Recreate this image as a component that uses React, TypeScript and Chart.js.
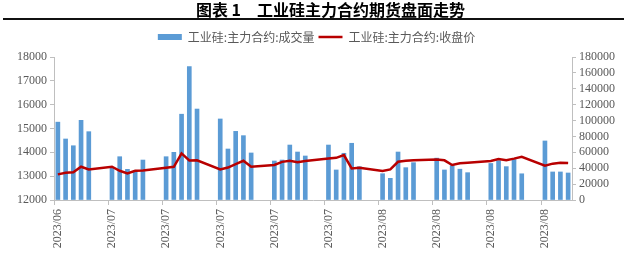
import React, { useEffect, useRef } from 'react';
import { Chart, registerables } from 'chart.js';

Chart.register(...registerables);

const TITLE_NO = '图表 1';
const TITLE_TEXT = '工业硅主力合约期货盘面走势';
const VOLUME_LABEL = '工业硅:主力合约:成交量';
const CLOSE_LABEL = '工业硅:主力合约:收盘价';

// date axis: one slot per calendar day, a labelled tick every 7 days
const START_DATE = '2023-06-26';
const AXIS_DAYS = 67;
const WEEK_LABELS = ['2023/06', '2023/07', '2023/07', '2023/07', '2023/07', '2023/07', '2023/08', '2023/08', '2023/08', '2023/08'];

const TRADE_DATES = [
  '2023-06-26', '2023-06-27', '2023-06-28', '2023-06-29', '2023-06-30',
  '2023-07-03', '2023-07-04', '2023-07-05', '2023-07-06', '2023-07-07',
  '2023-07-10', '2023-07-11', '2023-07-12', '2023-07-13', '2023-07-14',
  '2023-07-17', '2023-07-18', '2023-07-19', '2023-07-20', '2023-07-21',
  '2023-07-24', '2023-07-25', '2023-07-26', '2023-07-27', '2023-07-28',
  '2023-07-31', '2023-08-01', '2023-08-02', '2023-08-03', '2023-08-04',
  '2023-08-07', '2023-08-08', '2023-08-09', '2023-08-10', '2023-08-11',
  '2023-08-14', '2023-08-15', '2023-08-16', '2023-08-17', '2023-08-18',
  '2023-08-21', '2023-08-22', '2023-08-23', '2023-08-24', '2023-08-25',
  '2023-08-28', '2023-08-29', '2023-08-30', '2023-08-31',
];

const VOLUME = [
  98000, 76800, 68300, 100300, 86000,
  40000, 54500, 38600, 36900, 50300,
  54500, 60000, 108000, 167800, 114500,
  102000, 64200, 86400, 81000, 59200,
  49100, 50300, 69200, 60400, 55400,
  69200, 37800, 58800, 71400, 41900,
  33100, 27300, 60400, 40700, 47000,
  52700, 37800, 43400, 38800, 34400,
  46000, 49500, 42000, 51000, 33000,
  74300, 35300, 35300, 34000,
];

const CLOSE = [
  13076, 13143, 13160, 13395, 13285,
  13395, 13226, 13118, 13226, 13235,
  13352, 13395, 13954, 13660, 13665,
  13285, 13360, 13507, 13645, 13395,
  13470, 13600, 13645, 13585, 13640,
  13745, 13770, 13883, 13327, 13352,
  13214, 13285, 13604, 13645, 13665,
  13700, 13665, 13470, 13540, 13560,
  13640, 13720, 13670, 13735, 13812,
  13436, 13525, 13560, 13550,
];

const LEFT_MIN = 12000;
const LEFT_MAX = 18000;
const LEFT_STEP = 1000;
const RIGHT_MIN = 0;
const RIGHT_MAX = 180000;
const RIGHT_STEP = 20000;

const BLUE = '#5B9BD5';
const RED = '#B80000';
const AXIS_COLOR = '#BFBFBF';
const TEXT_COLOR = '#595959';
const SERIF = "'Times New Roman', 'Liberation Serif', Tinos, 'DejaVu Serif', serif";

const dayIndex = (d: string) =>
  Math.round((Date.parse(d) - Date.parse(START_DATE)) / 86400000);

export default function App() {
  const canvasRef = useRef<HTMLCanvasElement | null>(null);

  useEffect(() => {
    document.body.style.margin = '0';
    const canvas = canvasRef.current;
    if (!canvas) return;

    const volumePoints = TRADE_DATES.map((d, i) => ({ x: dayIndex(d) + 0.5, y: VOLUME[i] }));
    const closePoints = TRADE_DATES.map((d, i) => ({ x: dayIndex(d) + 0.5, y: CLOSE[i] }));

    const tickFont = { family: SERIF, size: 12, weight: 'normal' as const };

    const chart = new Chart(canvas, {
      type: 'bar',
      data: {
        datasets: [
          {
            type: 'bar',
            label: VOLUME_LABEL,
            data: volumePoints as any,
            backgroundColor: BLUE,
            borderWidth: 0,
            barThickness: 4,
            yAxisID: 'y1',
            order: 1,
          },
          {
            type: 'line',
            label: CLOSE_LABEL,
            data: closePoints as any,
            borderColor: RED,
            backgroundColor: RED,
            borderWidth: 2.5,
            pointRadius: 0,
            tension: 0,
            yAxisID: 'y',
            order: 0,
          } as any,
        ],
      },
      options: {
        animation: false,
        responsive: true,
        maintainAspectRatio: false,
        layout: { padding: { top: 22, left: 6, right: 0, bottom: 0 } },
        plugins: {
          title: { display: false },
          // empty spacer box between the legend and the plot area
          subtitle: {
            display: true,
            text: '',
            position: 'top',
            weight: 500,
            padding: 0,
            font: { size: 4, lineHeight: 1 },
          } as any,
          tooltip: { enabled: false },
          legend: {
            display: true,
            position: 'top',
            labels: {
              usePointStyle: true,
              pointStyleWidth: 24,
              boxHeight: 6,
              padding: 4,
              color: TEXT_COLOR,
              font: { family: "'Noto Sans CJK SC', sans-serif", size: 12, weight: 'normal' },
              generateLabels: () => [
                {
                  text: VOLUME_LABEL,
                  fillStyle: BLUE,
                  strokeStyle: BLUE,
                  lineWidth: 0,
                  pointStyle: 'rect',
                  datasetIndex: 0,
                  hidden: false,
                  fontColor: TEXT_COLOR,
                } as any,
                {
                  text: CLOSE_LABEL,
                  fillStyle: RED,
                  strokeStyle: RED,
                  lineWidth: 2.5,
                  pointStyle: 'line',
                  datasetIndex: 1,
                  hidden: false,
                  fontColor: TEXT_COLOR,
                } as any,
              ],
            },
          },
        },
        scales: {
          x: {
            type: 'linear',
            min: 0,
            max: AXIS_DAYS,
            offset: false,
            grid: {
              display: true,
              drawOnChartArea: false,
              drawTicks: true,
              tickLength: 5,
              color: AXIS_COLOR,
              offset: false,
            },
            border: { display: true, color: AXIS_COLOR, width: 1 },
            ticks: {
              stepSize: 7,
              autoSkip: false,
              includeBounds: false,
              minRotation: 90,
              maxRotation: 90,
              padding: 4,
              labelOffset: 4,
              color: TEXT_COLOR,
              font: tickFont,
              callback: (v: any) => {
                const n = Number(v);
                if (n % 7 !== 0) return '';
                return WEEK_LABELS[n / 7] ?? '';
              },
            },
            afterFit: (scale: any) => {
              scale.height = 65;
            },
          },
          y: {
            type: 'linear',
            position: 'left',
            min: LEFT_MIN,
            max: LEFT_MAX,
            grid: {
              display: true,
              drawOnChartArea: false,
              drawTicks: true,
              tickLength: 4,
              color: AXIS_COLOR,
            },
            border: { display: true, color: AXIS_COLOR, width: 1 },
            ticks: {
              stepSize: LEFT_STEP,
              autoSkip: false,
              padding: 3,
              color: TEXT_COLOR,
              font: tickFont,
              callback: (v: any) => String(v),
            },
            afterFit: (scale: any) => {
              scale.width = 48;
              scale.paddingTop = 57;
            },
          },
          y1: {
            type: 'linear',
            position: 'right',
            min: RIGHT_MIN,
            max: RIGHT_MAX,
            grid: {
              display: true,
              drawOnChartArea: false,
              drawTicks: true,
              tickLength: 4,
              color: AXIS_COLOR,
            },
            border: { display: true, color: AXIS_COLOR, width: 1 },
            ticks: {
              stepSize: RIGHT_STEP,
              autoSkip: false,
              padding: 3,
              color: TEXT_COLOR,
              font: tickFont,
              callback: (v: any) => String(v),
            },
            afterFit: (scale: any) => {
              scale.width = 55;
              scale.paddingTop = 57;
            },
          },
        },
      },
    });

    let alive = true;
    if ((document as any).fonts && (document as any).fonts.load) {
      Promise.all([
        (document as any).fonts.load("12px 'Liberation Serif'"),
        (document as any).fonts.load("12px 'Noto Sans CJK SC'"),
      ])
        .catch(() => undefined)
        .then(() => {
          if (alive) chart.update();
        });
    }

    return () => {
      alive = false;
      chart.destroy();
    };
  }, []);

  return (
    <div style={{ position: 'relative', width: 627, height: 265, background: '#fff' }}>
      <canvas ref={canvasRef} style={{ position: 'absolute', left: 0, top: 0, width: 627, height: 265 }} />
      <div
        style={{
          position: 'absolute',
          left: 0,
          top: 0,
          width: 627,
          height: 18,
          textAlign: 'center',
          fontFamily: "'Noto Sans CJK SC', sans-serif",
          fontWeight: 700,
          fontSize: 16,
          lineHeight: '18px',
          color: '#000',
          paddingLeft: 34,
          boxSizing: 'border-box',
          whiteSpace: 'nowrap',
        }}
      >
        <span>{TITLE_NO}</span>
        <span style={{ marginLeft: 16 }}>{TITLE_TEXT}</span>
      </div>
      <div
        style={{
          position: 'absolute',
          left: 3,
          top: 18,
          width: 621,
          height: 2,
          background: '#111',
        }}
      />
      <span style={{ position: 'absolute', left: -1000, top: 0, fontFamily: "'Liberation Serif'", fontSize: 12 }}>0</span>
    </div>
  );
}
